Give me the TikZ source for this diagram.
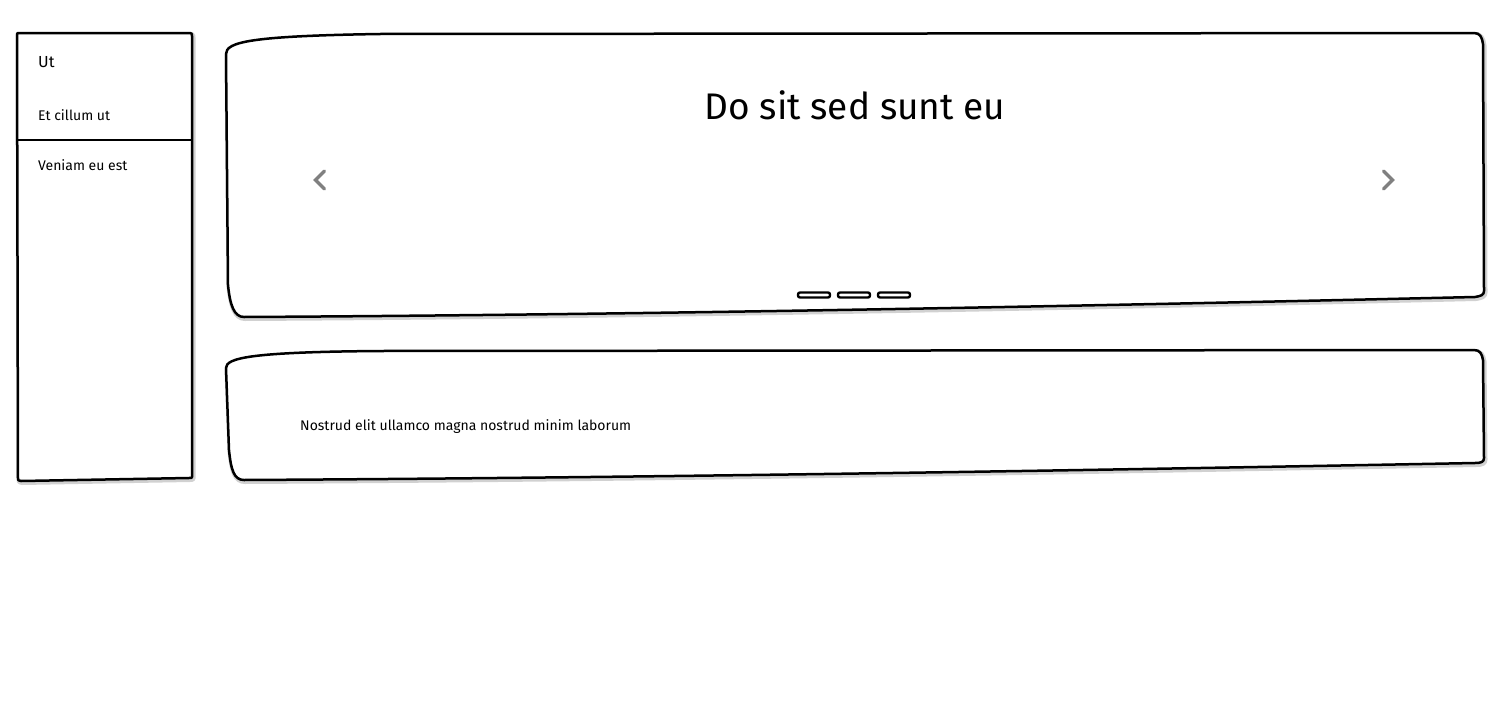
\documentclass[tikz,border=0pt]{standalone}
\usepackage{fontspec}
\setmainfont{Fira Sans}
\usetikzlibrary{calc}
\begin{document}
\begin{tikzpicture}[x=1pt,y=-1pt]
\tikzset{
  outline/.style={draw=black,line width=2.5pt,line join=round},
  shade/.style={draw=black!45,line width=5pt,opacity=0.4,line join=round},
  chev/.style={draw=black!50,line width=3.5pt,line cap=round,line join=miter},
  dot/.style={draw=black,line width=2.4pt,fill=white,rounded corners=2pt},
  txt/.style={anchor=west,inner sep=0pt,font=\fontsize{14}{16}\selectfont}
}
\useasboundingbox (0,0) rectangle (1500,720);
% sidebar
\def\side{(17,34) .. controls (17,33) and (18,33) .. (20,33) -- (190,33) .. controls (192,33) and (192,34) .. (192,36) -- (192,477) .. controls (192,478) and (191,478) .. (189,478) -- (21,481) .. controls (18,481) and (18,480) .. (18,478) -- cycle}
\draw[shade,shift={(1,1.5)}] \side;
\draw[outline,fill=white] \side;
\draw[line width=2.3pt] (17,140) -- (192,140);
\node[txt,font=\fontsize{16}{18}\selectfont] (ut) at (38,62) {Ut};
\node[txt] (et) at (38,115) {Et cillum ut};
\node[txt] (ve) at (38,165) {Veniam eu est};
% carousel
\def\caro{(226,54) .. controls (226,42) and (250,36) .. (380,34) -- (1474,33) .. controls (1480,33) and (1482,37) .. (1483,44) -- (1484,291) .. controls (1484,295) and (1481,296) .. (1475,297) .. controls (1000,308) and (600,315) .. (244,317) .. controls (234,317) and (230,305) .. (228,285) -- cycle}
\draw[shade,shift={(1,1.5)}] \caro;
\draw[outline,fill=white] \caro;
\node[inner sep=0pt,font=\fontsize{37}{42}\selectfont] (title) at (855,105) {Do sit sed sunt eu};
\coordinate (lc) at (320,180);
\coordinate (rc) at (1388,180);
\draw[chev] ($(lc)+(4.5,-9)$) -- ($(lc)+(-4.5,0)$) -- ($(lc)+(4.5,9)$);
\draw[chev] ($(rc)+(-4.5,-9)$) -- ($(rc)+(4.5,0)$) -- ($(rc)+(-4.5,9)$);
\draw[dot] (798,292.5) rectangle (830,297.5);
\draw[dot] (838,292.5) rectangle (870,297.5);
\draw[dot] (878,292.5) rectangle (910,297.5);
% card
\def\card{(226,368) .. controls (226,358) and (250,352) .. (380,351) -- (1474,350) .. controls (1480,350) and (1482,354) .. (1483,360) -- (1484,458) .. controls (1484,462) and (1481,463) .. (1475,463) .. controls (1000,472) and (600,478) .. (244,480) .. controls (234,480) and (231,470) .. (229,450) -- cycle}
\draw[shade,shift={(1,1.5)}] \card;
\draw[outline,fill=white] \card;
\node[txt] (body) at (300,427) {Nostrud elit ullamco magna nostrud minim laborum};
\end{tikzpicture}
\end{document}
